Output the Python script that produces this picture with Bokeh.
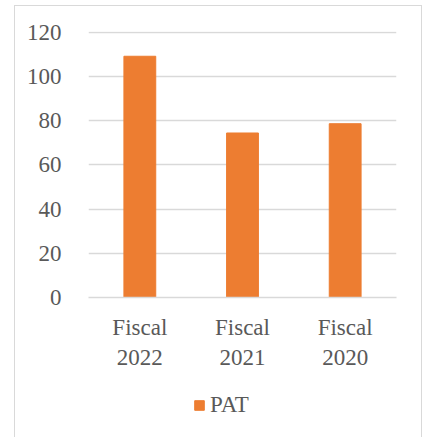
from bokeh.plotting import figure
from bokeh.layouts import column
from bokeh.models import ColumnDataSource, Legend, LegendItem, Range1d, FactorRange
from bokeh.embed import file_html
from bokeh.resources import INLINE

categories = ["Fiscal\n2022", "Fiscal\n2021", "Fiscal\n2020"]
pat = [109.1, 74.4, 78.6]
series_name = "PAT"
y_ticks = [0, 20, 40, 60, 80, 100, 120]

FONT = "Times New Roman, Liberation Serif, serif"
TXT = "#595959"
GRID = "#d9d9d9"
BAR = "#ED7D31"

src = ColumnDataSource(dict(cat=categories, val=pat))

p = figure(x_range=FactorRange(*categories), y_range=Range1d(0, 120.3),
           width=406, height=375, output_backend="svg", toolbar_location=None,
           min_border_left=73, min_border_right=25, min_border_top=25,
           min_border_bottom=84)

r = p.vbar(x="cat", top="val", width=0.31, source=src, color=BAR)

p.outline_line_color = None
p.xgrid.grid_line_color = None
p.ygrid.grid_line_color = GRID
p.ygrid.grid_line_width = 1.5
p.yaxis.ticker = y_ticks
p.yaxis.axis_line_color = None
p.yaxis.major_tick_line_color = None
p.yaxis.minor_tick_line_color = None
p.yaxis.major_label_standoff = 21
p.xaxis.axis_line_color = GRID
p.xaxis.axis_line_width = 1.5
p.xaxis.major_tick_line_color = None
p.xaxis.major_label_standoff = 11
for ax in (p.xaxis[0], p.yaxis[0]):
    ax.major_label_text_font = FONT
    ax.major_label_text_font_size = "23px"
    ax.major_label_text_color = TXT
p.x_range.range_padding = 0
p.x_range.group_padding = 0

# legend strip below the chart
p2 = figure(x_range=FactorRange(*categories), y_range=Range1d(1000, 1001),
            width=406, height=56, output_backend="svg", toolbar_location=None,
            min_border_left=0, min_border_right=0, min_border_top=0,
            min_border_bottom=0)
r2 = p2.vbar(x="cat", top="val", width=0.31, source=src, color=BAR)
p2.axis.visible = False
p2.grid.visible = False
p2.outline_line_color = None

legend = Legend(items=[LegendItem(label=series_name, renderers=[r2])],
                location=(105, 19), orientation="horizontal",
                label_text_font=FONT, label_text_font_size="23px",
                label_text_color=TXT, border_line_color=None,
                background_fill_alpha=0, glyph_width=12, glyph_height=12,
                label_standoff=5, margin=0, padding=0)
p2.add_layout(legend)

layout = column(p, p2, spacing=0)
layout.margin = (5, 0, 0, 14)
layout.styles = {"border": "1.5px solid #d9d9d9", "border-bottom": "none"}

open("out.html", "w").write(file_html(layout, INLINE))
